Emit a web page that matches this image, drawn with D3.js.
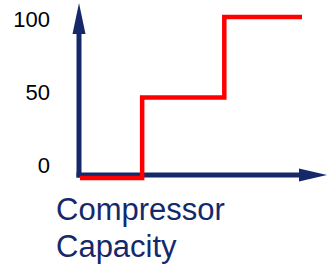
<!DOCTYPE html>
<html>
<head>
<meta charset="utf-8">
<script src="https://cdn.jsdelivr.net/npm/d3@7"></script>
<style>
	body { margin: 0; background: #fff; }
	svg { display: block; }
</style>
</head>
<body>
<div id="chart"></div>
<script>
// Step chart: compressor capacity

var stepX = [0, 28, 65, 100];
var stepY = [0, 50, 100, 100];
var tickValues = [0, 50, 100];
var titleLines = ["Compressor", "Capacity"];

var width = 328;
var height = 266;
var navy = "#15296a";

var svg = d3.select("#chart")
	.append("svg")
	.attr("width", width)
	.attr("height", height);

var x = d3.scaleLinear()
	.domain([0, 100])
	.range([80, 302]);

var y = d3.scaleLinear()
	.domain([0, 100])
	.range([178, 17]);

// label positions sit a little off the line levels
var yLabel = d3.scaleLinear()
	.domain([0, 100])
	.range([173, 27]);

var data = stepX.map(function(d, i){
	return {x: d, y: stepY[i]};
});

// axes with arrowheads
var x0 = 79;
var y0 = 175;

svg.append("line")
	.attr("x1", x0)
	.attr("x2", x0)
	.attr("y1", y0 + 2.5)
	.attr("y2", 33)
	.style("stroke", navy)
	.style("stroke-width", 5);

svg.append("path")
	.attr("d", "M" + (x0 - 6.5) + ",34L" + x0 + ",3L" + (x0 + 6.5) + ",34Z")
	.style("fill", navy);

svg.append("line")
	.attr("x1", x0 - 2.5)
	.attr("x2", 300)
	.attr("y1", y0)
	.attr("y2", y0)
	.style("stroke", navy)
	.style("stroke-width", 5);

svg.append("path")
	.attr("d", "M299," + (y0 - 6.5) + "L327," + y0 + "L299," + (y0 + 6.5) + "Z")
	.style("fill", navy);

// red step line
var line = d3.line()
	.x(d => x(d.x))
	.y(d => y(d.y))
	.curve(d3.curveStepAfter);

svg.append("path")
	.datum(data)
	.attr("d", line)
	.style("fill", "none")
	.style("stroke", "#ff0000")
	.style("stroke-width", 4.5)
	.style("stroke-linejoin", "miter");

// tick labels
svg.selectAll("text.tick")
	.data(tickValues)
	.enter()
	.append("text")
	.attr("class", "tick")
	.attr("x", 50)
	.attr("y", d => yLabel(d))
	.style("text-anchor", "end")
	.style("font-family", "Liberation Sans, Arial, sans-serif")
	.style("font-size", "22px")
	.style("fill", "#000")
	.text(d => d);

// axis title
svg.selectAll("text.title")
	.data(titleLines)
	.enter()
	.append("text")
	.attr("class", "title")
	.attr("x", 56)
	.attr("y", (d, i) => 220 + i * 37)
	.style("font-family", "Liberation Sans, Arial, sans-serif")
	.style("font-size", "31px")
	.style("fill", navy)
	.text(d => d);
</script>
</body>
</html>
